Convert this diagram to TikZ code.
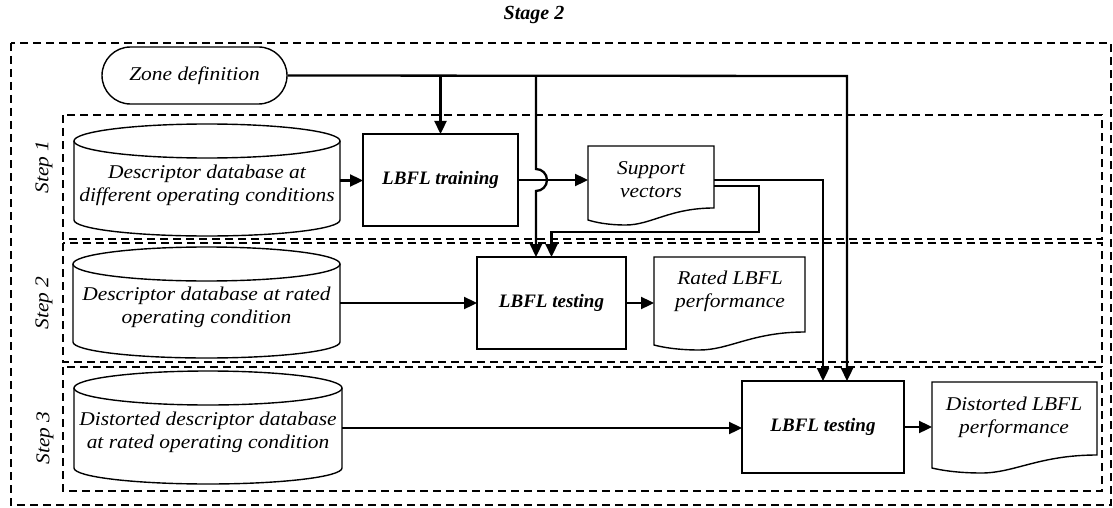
\documentclass[tikz,border=0pt]{standalone}
\usepackage{fontspec}
\setmainfont{Liberation Serif}[FakeStretch=1.1]
\newfontfamily\headfont{Liberation Serif}
\usetikzlibrary{arrows.meta,calc,shapes.misc}

\tikzset{
  shp/.style={draw, line width=1.4pt},
  wire/.style={line width=2.3pt},
  conn/.style={line width=2.3pt, -{Triangle[length=13pt,width=12pt]}},
  frame/.style={draw, line width=1.4pt, dash pattern=on 8pt off 5pt},
  txt/.style={font=\itshape\fontsize{19.5}{23}\selectfont, align=center, inner sep=0pt},
  boldtxt/.style={font=\headfont\bfseries\itshape\fontsize{19}{22}\selectfont, inner sep=0pt},
  area/.style={inner sep=0pt, outer sep=0pt},
  procbox/.style={area, shp, txt, font=\headfont\bfseries\itshape\fontsize{19}{22}\selectfont}
}

% open-top database drum around a named body node
\newcommand\drum[2]{%
  \draw[shp] (#1.north west) -- (#1.south west)
    arc[start angle=180, end angle=360, x radius=#2, y radius=16pt] -- (#1.north east);
  \draw[shp] (#1.north) ellipse[x radius=#2, y radius=17pt];}

% document sheet with a wavy lower edge: x0, x1, top, left bottom, right bottom
\newcommand\docshape[5]{%
  \draw[shp] (#1,-#3) -- (#2,-#3) -- (#2,-#5)
    .. controls ({#1+0.65*(#2-#1)},-#5) and ({#1+0.5*(#2-#1)},{-(#4+5)}) .. ({#1+0.3*(#2-#1)},{-(#4+5)})
    .. controls ({#1+0.15*(#2-#1)},{-(#4+5)}) and ({#1+0.05*(#2-#1)},{-(#4+2)}) .. (#1,-#4) -- cycle;}

\begin{document}
\begin{tikzpicture}[x=1pt, y=1pt]
\useasboundingbox (0,0) rectangle (1113,-508);
\fill[white] (0,0) rectangle (1113,-508);

% stage and step frames
\draw[frame] (11,-43) rectangle (1111,-505);
\draw[frame] (63,-115) rectangle (1102,-239);
\draw[frame] (63,-243) rectangle (1102,-362);
\draw[frame] (63,-367) rectangle (1102,-491);

\node[boldtxt, font=\headfont\bfseries\itshape\fontsize{20}{22}\selectfont] (stage) at (534,-15) {Stage 2};
\node[txt, rotate=90] (s1) at (44,-167) {Step 1};
\node[txt, rotate=90] (s2) at (44,-303) {Step 2};
\node[txt, rotate=90] (s3) at (45,-438) {Step 3};

% zone definition terminal
\node[shp, txt, rounded rectangle, minimum width=185pt, minimum height=57pt] (zone) at (194.5,-75.5) {Zone definition};

% databases
\node[area, minimum width=266pt, minimum height=79pt] (c1) at (207,-180.5) {};
\drum{c1}{133pt}
\node[txt] (c1t) at (207,-185) {Descriptor database at\\different operating conditions};

\node[area, minimum width=267pt, minimum height=78pt] (c2) at (206.5,-303) {};
\drum{c2}{133.5pt}
\node[txt] (c2t) at (206.5,-307) {Descriptor database at rated\\operating condition};

\node[area, minimum width=268pt, minimum height=80pt] (c3) at (208,-428) {};
\drum{c3}{134pt}
\node[txt] (c3t) at (208,-432) {Distorted descriptor database\\at rated operating condition};

% processes
\node[procbox, minimum width=155pt, minimum height=92pt] (train) at (440.5,-180) {LBFL training};
\node[procbox, minimum width=149pt, minimum height=92pt] (test2) at (551.5,-303) {LBFL testing};
\node[procbox, minimum width=162pt, minimum height=92pt] (test3) at (823,-427) {LBFL testing};

% documents
\node[area, minimum width=126pt, minimum height=68pt] (sv) at (651,-180) {};
\docshape{588}{714}{146}{220}{208}
\node[txt] (svt) at (651,-180) {Support\\vectors};

\node[area, minimum width=151pt, minimum height=90pt] (rated) at (729.5,-302) {};
\docshape{654}{805}{257}{345}{332}
\node[txt] (ratedt) at (730,-291) {Rated LBFL\\performance};

\node[area, minimum width=165pt, minimum height=92pt] (dist) at (1014.5,-428) {};
\docshape{932}{1097}{382}{468}{455}
\node[txt] (distt) at (1014,-417) {Distorted LBFL\\performance};

% connectors
\coordinate (zr) at (847,-76);
\coordinate (zm) at (536,-76);
\draw[conn] (zone.east) -- (zr) -- (zr |- test3.north);
\draw[conn] (zone.east -| train.north) -- (train.north);
\draw[conn] (zm) -- ($(zm |- train.east)+(0,11)$)
  arc[start angle=90, end angle=-90, radius=11pt] -- (zm |- test2.north);
\draw[conn] (c1.east) -- (c1.east -| train.west);
\draw[conn] (train.east) -- (train.east -| sv.west);
\draw[conn] (sv.east) -| (test3.north);
\draw[conn] ($(sv.east)+(0,-6)$) -- ++(45,0) |- ($(test2.north)+(0,25)$) -- (test2.north);
\draw[conn] (c2.east) -- (c2.east -| test2.west);
\draw[conn] (test2.east) -- (test2.east -| rated.west);
\draw[conn] (c3.east) -- (c3.east -| test3.west);
\draw[conn] (test3.east) -- (test3.east -| dist.west);
\end{tikzpicture}
\end{document}
